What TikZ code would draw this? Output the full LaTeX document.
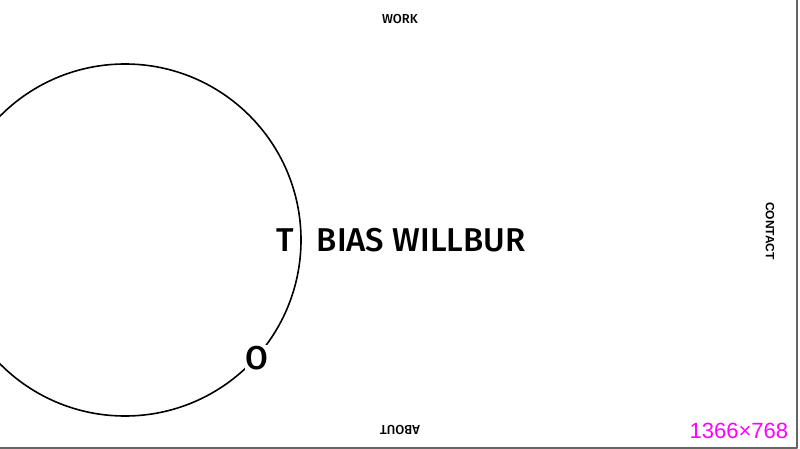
\documentclass[tikz,border=0pt]{standalone}
\usepackage{fontspec}
\setmainfont{Fira Sans Medium}
\newfontfamily\sizefont{Liberation Sans}
\definecolor{sizepink}{RGB}{255,0,255}
\tikzset{
	bigletter/.style={inner sep=0pt, font=\fontsize{33}{33}\selectfont},
	navlink/.style={inner sep=0pt, font=\fontsize{13}{13}\selectfont},
}
\begin{document}
\begin{tikzpicture}[x=1pt, y=-1pt, line join=round, line cap=round, line width=1.6pt]
	\useasboundingbox (0,0) rectangle (800,449);
	\clip (0,0) rectangle (800,449);
	\draw (125,240) circle (176);
	\node[bigletter] (letterT) at (285,240) {T};
	\node[bigletter, anchor=west] (surname) at (316,240) {BIAS WILLBUR};
	\node[bigletter, fill=white, inner sep=1pt] (letterO) at (257,358) {O};
	\node[navlink] (work) at (400,19) {WORK};
	\node[navlink, rotate=180] (about) at (400,430) {ABOUT};
	\node[navlink, rotate=-90, font=\sizefont\bfseries\fontsize{12}{12}\selectfont] (contact) at (770,231) {CONTACT};
	\node[inner sep=0pt, anchor=east, text=sizepink, font=\sizefont\fontsize{22}{22}\selectfont] (screensize) at (789,431) {1366×768};
	\draw[line width=1.5pt, color=black!60] (797,0)--(797,448)--(0,448);
\end{tikzpicture}
\end{document}
